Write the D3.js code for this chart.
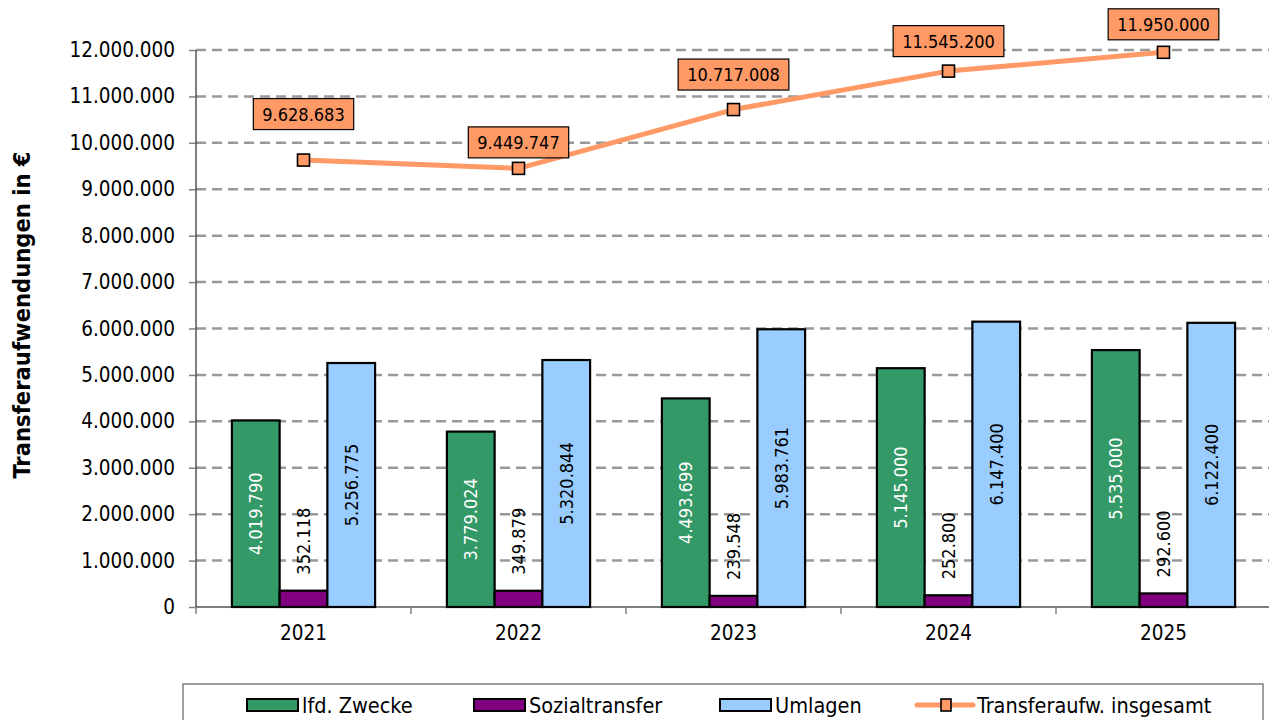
<!DOCTYPE html>
<html>
<head>
<meta charset="utf-8">
<script src="https://cdn.jsdelivr.net/npm/d3@7"></script>
<style>
  html, body { margin: 0; padding: 0; background: #fff; }
  svg { display: block; font-family: "DejaVu Sans Condensed", "DejaVu Sans", sans-serif; font-stretch: condensed; }
</style>
</head>
<body>
<svg id="chart" width="1269" height="720"></svg>
<script>
// ---- data ----
const years = ["2021", "2022", "2023", "2024", "2025"];
const seriesNames = ["lfd. Zwecke", "Sozialtransfer", "Umlagen"];
const lfdZwecke = [4019790, 3779024, 4493699, 5145000, 5535000];
const sozialtransfer = [352118, 349879, 239548, 252800, 292600];
const umlagen = [5256775, 5320844, 5983761, 6147400, 6122400];
const insgesamt = [9628683, 9449747, 10717008, 11545200, 11950000];
const lineName = "Transferaufw. insgesamt";
const yTicks = [0, 1000000, 2000000, 3000000, 4000000, 5000000, 6000000, 7000000, 8000000, 9000000, 10000000, 11000000, 12000000];
const yTitle = "Transferaufwendungen in €";

// ---- layout / style (not data) ----
const colors = ["#339966", "#800080", "#99CCFF"];
const lineColor = "#FF9966";
const labelLift = [46, 26, 35, 30, 28]; // manual label placement above points (px)
const legendX = [247, 474, 720, 917];
const FONT = "DejaVu Sans Condensed, DejaVu Sans, sans-serif";

const de = d3.formatLocale({ decimal: ",", thousands: ".", grouping: [3], currency: ["", " €"] });
const fmt = de.format(",d");

const svg = d3.select("#chart");
const plotL = 196, plotR = 1271, plotT = 50, plotB = 607;

const x = d3.scaleBand().domain(years).range([plotL, plotR]).padding(0);
const y = d3.scaleLinear().domain([0, 12000000]).range([plotB, plotT]);
const barW = x.bandwidth() * 0.222;
const xs = d3.scaleBand().domain(seriesNames).range([-1.5 * barW, 1.5 * barW]).padding(0);

// gridlines
svg.append("g").selectAll("line").data(yTicks.filter(d => d > 0)).join("line")
  .attr("x1", plotL).attr("x2", 1269)
  .attr("y1", d => y(d)).attr("y2", d => y(d))
  .attr("stroke", "#999").attr("stroke-width", 2.5).attr("stroke-dasharray", "10,6");

// y axis
const yAxis = d3.axisLeft(y).tickValues(yTicks).tickFormat(d => fmt(d)).tickSize(7).tickPadding(14);
const gy = svg.append("g").attr("transform", `translate(${plotL},0)`).call(yAxis);
gy.select(".domain").attr("stroke", "#000").attr("d", `M0,${plotB}V${plotT}`);
gy.selectAll(".tick line").attr("stroke", "#808080").attr("stroke-width", 1.5);
gy.selectAll(".tick text").attr("font-size", 20.5).attr("fill", "#000")
  .attr("font-family", FONT);

// x axis
const xAxis = d3.axisBottom(x).tickSize(0).tickPadding(18);
const gx = svg.append("g").attr("transform", `translate(0,${plotB})`).call(xAxis);
gx.select(".domain").attr("stroke", "#000").attr("stroke-width", 1.2).attr("d", `M${plotL},0H1269`);
gx.selectAll(".tick text").attr("font-size", 20.5).attr("fill", "#000")
  .attr("font-family", FONT);
// x tick marks at category boundaries
svg.append("g").selectAll("line").data(years).join("line")
  .attr("x1", d => x(d)).attr("x2", d => x(d))
  .attr("y1", plotB).attr("y2", plotB + 7)
  .attr("stroke", "#808080").attr("stroke-width", 1.5);

// bars
const seriesData = [lfdZwecke, sozialtransfer, umlagen];
seriesData.forEach((vals, si) => {
  const g = svg.append("g");
  g.selectAll("rect").data(vals).join("rect")
    .attr("x", (d, i) => x(years[i]) + x.bandwidth() / 2 + xs(seriesNames[si]))
    .attr("y", d => y(d))
    .attr("width", xs.bandwidth())
    .attr("height", d => plotB - y(d))
    .attr("fill", colors[si])
    .attr("stroke", "#000").attr("stroke-width", 2.2);
  // labels
  g.selectAll("text").data(vals).join("text")
    .attr("transform", (d, i) => {
      const cx = x(years[i]) + x.bandwidth() / 2 + xs(seriesNames[si]) + xs.bandwidth() / 2;
      if (si === 1) {
        return `translate(${cx},${y(d) - 16}) rotate(-90)`;
      }
      return `translate(${cx},${(y(d) + plotB) / 2}) rotate(-90)`;
    })
    .attr("text-anchor", si === 1 ? "start" : "middle")
    .attr("dy", "0.36em")
    .attr("font-size", 18)
    .attr("fill", si === 0 ? "#fff" : "#000")
    .text(d => fmt(d));
});

// line
const cx = (d, i) => x(years[i]) + x.bandwidth() / 2;
const line = d3.line().x((d, i) => cx(d, i)).y(d => y(d));
svg.append("path").datum(insgesamt)
  .attr("d", line).attr("fill", "none")
  .attr("stroke", lineColor).attr("stroke-width", 5).attr("stroke-linejoin", "round");
svg.append("g").selectAll("rect").data(insgesamt).join("rect")
  .attr("x", (d, i) => cx(d, i) - 6).attr("y", d => y(d) - 6)
  .attr("width", 12).attr("height", 12)
  .attr("fill", lineColor).attr("stroke", "#000").attr("stroke-width", 1.6);

// line labels
const lbl = svg.append("g").selectAll("g").data(insgesamt).join("g")
  .attr("transform", (d, i) => `translate(${cx(d, i)},${y(d) - labelLift[i]})`);
lbl.append("text")
  .attr("text-anchor", "middle").attr("dy", "0.36em")
  .attr("font-size", 18).attr("fill", "#000")
  .text(d => fmt(d));
lbl.each(function () {
  const g = d3.select(this);
  const bb = g.select("text").node().getBBox();
  g.insert("rect", "text")
    .attr("x", bb.x - 9).attr("y", -15.5)
    .attr("width", bb.width + 18).attr("height", 31)
    .attr("fill", lineColor).attr("stroke", "#000").attr("stroke-width", 1.2);
});

// y title
svg.append("text")
  .attr("transform", `translate(22,315) rotate(-90)`)
  .attr("text-anchor", "middle").attr("dy", "0.36em")
  .attr("font-size", 23.5).attr("font-weight", "bold").attr("fill", "#000")
  .text(yTitle);

// legend
svg.append("rect").attr("x", 183).attr("y", 684).attr("width", 1080).attr("height", 60)
  .attr("fill", "#fff").attr("stroke", "#808080").attr("stroke-width", 1.5);
const legendNames = seriesNames.concat([lineName]);
legendNames.forEach((name, i) => {
  const lx = legendX[i];
  const g = svg.append("g");
  if (i < 3) {
    g.append("rect").attr("x", lx).attr("y", 699).attr("width", 51).attr("height", 12)
      .attr("fill", colors[i]).attr("stroke", "#000").attr("stroke-width", 2);
    g.append("text").attr("x", lx + 55).attr("y", 705).attr("dy", "0.36em")
      .attr("font-size", 21.5).attr("fill", "#000").text(name);
  } else {
    g.append("line").attr("x1", lx).attr("x2", lx + 56).attr("y1", 705).attr("y2", 705)
      .attr("stroke", lineColor).attr("stroke-width", 5).attr("stroke-linecap", "round");
    g.append("rect").attr("x", lx + 24).attr("y", 699).attr("width", 10).attr("height", 12)
      .attr("fill", lineColor).attr("stroke", "#000").attr("stroke-width", 1.6);
    g.append("text").attr("x", lx + 60).attr("y", 705).attr("dy", "0.36em")
      .attr("font-size", 21.5).attr("fill", "#000").text(name);
  }
});
</script>
</body>
</html>
